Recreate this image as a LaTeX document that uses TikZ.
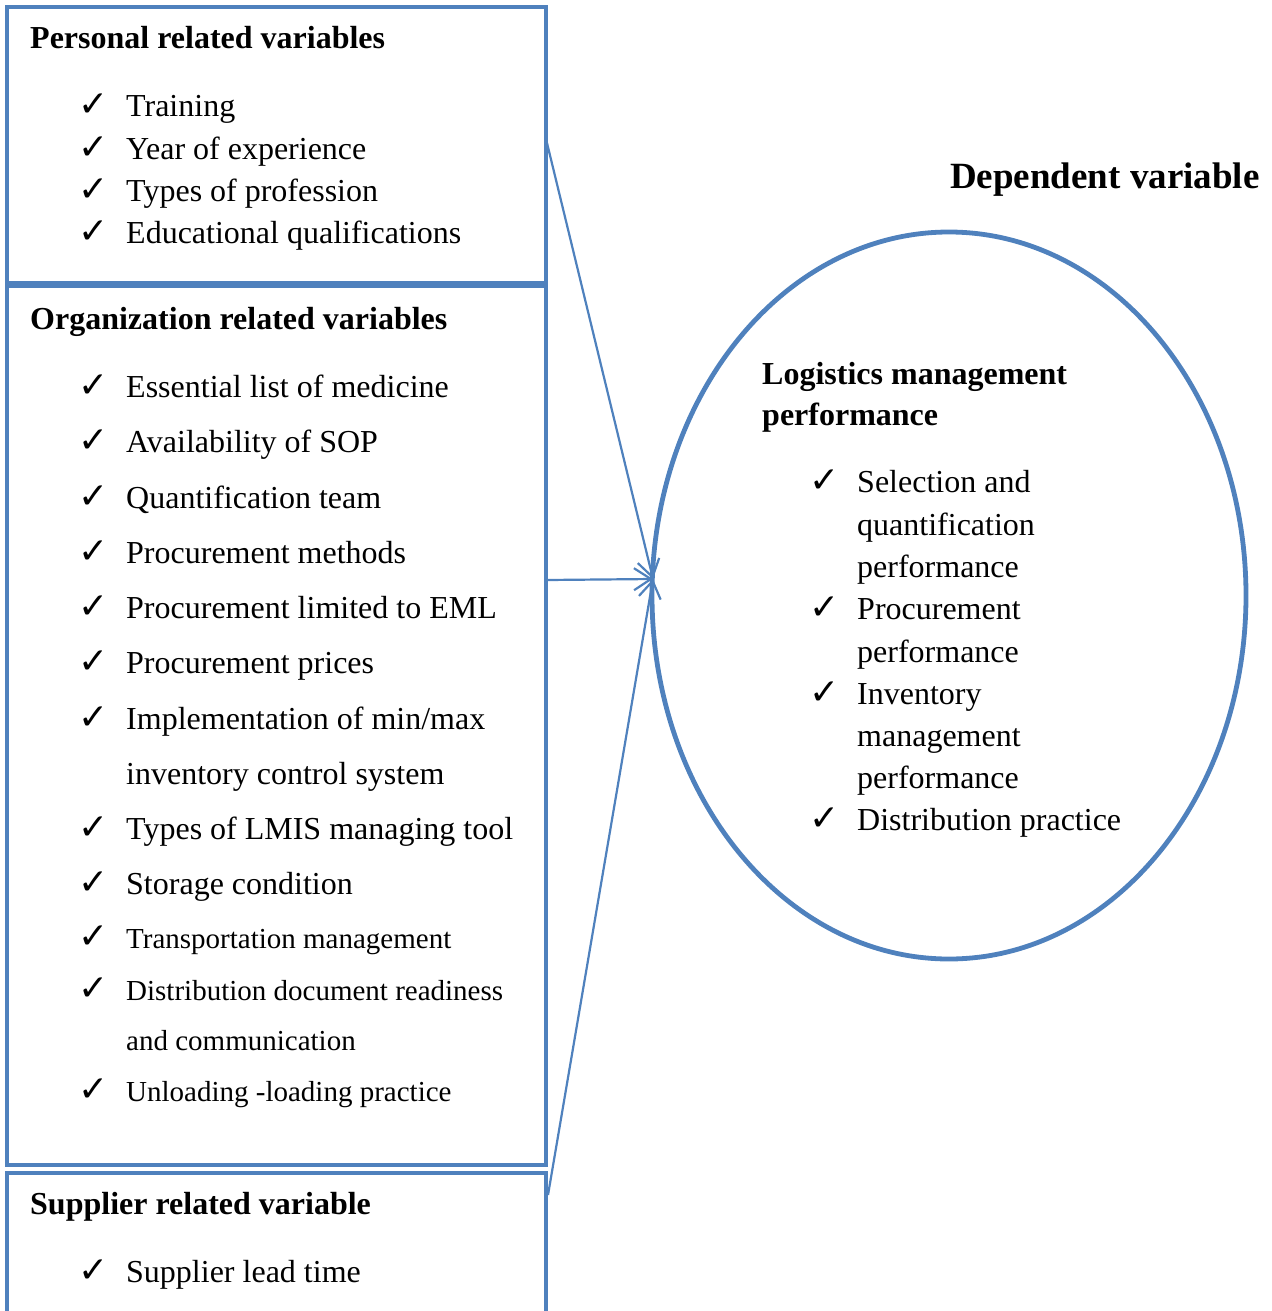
\documentclass[tikz,border=0pt]{standalone}
\usepackage{fontspec}
\setmainfont{Liberation Serif}
\newfontfamily\checkfont{DejaVu Sans}
\usetikzlibrary{arrows.meta,shapes.geometric}
\definecolor{boxblue}{HTML}{4F81BD}
\begin{document}
\begin{tikzpicture}[x=1pt,y=-1pt,
 panel/.style={draw=boxblue, line width=4.8pt, minimum width=539pt, inner sep=0pt},
 head/.style={anchor=base west, inner sep=0pt, font=\fontsize{32}{38}\selectfont\bfseries},
 bighead/.style={anchor=base west, inner sep=0pt, font=\fontsize{37}{44}\selectfont\bfseries},
 txt/.style={anchor=base west, inner sep=0pt, font=\fontsize{32}{38}\selectfont},
 stxt/.style={anchor=base west, inner sep=0pt, font=\fontsize{29}{35}\selectfont},
 tick/.style={anchor=base west, inner sep=0pt, font=\fontsize{36}{40}\checkfont},
 link/.style={draw=boxblue, line width=2.2pt, -{Straight Barb[length=17pt,width=22pt,line width=2.2pt]}}]
\useasboundingbox (0,0) rectangle (1271,1311);

% panels
\node[panel, minimum height=276pt] (b1) at (276.5,145) {};
\node[panel, minimum height=879pt] (b2) at (276.5,725.5) {};
\node[panel, minimum height=150pt] (b3) at (276.5,1248) {};
\node[draw=boxblue, line width=4.8pt, ellipse, minimum width=594pt, minimum height=727pt, inner sep=0pt] (ell) at (949,595.5) {};

% box 1
\node[head] (h1) at (30,49) {Personal related variables};
\node[tick] (c11) at (78,117) {✓}; \node[txt] (t11) at (126,117) {Training};
\node[tick] (c12) at (78,159) {✓}; \node[txt] (t12) at (126,159) {Year of experience};
\node[tick] (c13) at (78,201) {✓}; \node[txt] (t13) at (126,201) {Types of profession};
\node[tick] (c14) at (78,243) {✓}; \node[txt] (t14) at (126,243) {Educational qualifications};

% box 2
\node[head] (h2) at (30,329) {Organization related variables};
\node[tick] (c21) at (78,397) {✓}; \node[txt] (t21) at (126,397) {Essential list of medicine};
\node[tick] (c22) at (78,452) {✓}; \node[txt] (t22) at (126,452) {Availability of SOP};
\node[tick] (c23) at (78,508) {✓}; \node[txt] (t23) at (126,508) {Quantification team};
\node[tick] (c24) at (78,563) {✓}; \node[txt] (t24) at (126,563) {Procurement methods};
\node[tick] (c25) at (78,618) {✓}; \node[txt] (t25) at (126,618) {Procurement limited to EML};
\node[tick] (c26) at (78,673) {✓}; \node[txt] (t26) at (126,673) {Procurement prices};
\node[tick] (c27) at (78,729) {✓}; \node[txt] (t27) at (126,729) {Implementation of min/max};
\node[txt] (t27b) at (126,784) {inventory control system};
\node[tick] (c28) at (78,839) {✓}; \node[txt] (t28) at (126,839) {Types of LMIS managing tool};
\node[tick] (c29) at (78,894) {✓}; \node[txt] (t29) at (126,894) {Storage condition};
\node[tick] (c210) at (78,948) {✓}; \node[stxt] (t210) at (126,948) {Transportation management};
\node[tick] (c211) at (78,1000) {✓}; \node[stxt] (t211) at (126,1000) {Distribution document readiness};
\node[stxt] (t211b) at (126,1050) {and communication};
\node[tick] (c212) at (78,1101) {✓}; \node[stxt] (t212) at (126,1101) {Unloading -loading practice};

% box 3
\node[head] (h3) at (30,1214) {Supplier related variable};
\node[tick] (c31) at (78,1282) {✓}; \node[txt] (t31) at (126,1282) {Supplier lead time};

% dependent
\node[bighead] (dep) at (950,188) {Dependent variable};
\node[head] (lh1) at (762,384) {Logistics management};
\node[head] (lh2) at (762,425) {performance};
\node[tick] (e1) at (809,492) {✓}; \node[txt] (et1) at (857,492) {Selection and};
\node[txt] (et1b) at (857,535) {quantification};
\node[txt] (et1c) at (857,577) {performance};
\node[tick] (e2) at (809,619) {✓}; \node[txt] (et2) at (857,619) {Procurement};
\node[txt] (et2b) at (857,662) {performance};
\node[tick] (e3) at (809,704) {✓}; \node[txt] (et3) at (857,704) {Inventory};
\node[txt] (et3b) at (857,746) {management};
\node[txt] (et3c) at (857,788) {performance};
\node[tick] (e4) at (809,830) {✓}; \node[txt] (et4) at (857,830) {Distribution practice};

% connectors
\coordinate (tip) at (653,579);
\coordinate (s1) at (547,143);
\coordinate (s2) at (547,580);
\coordinate (s3) at (548,1195);
\draw[link] (s1) -- (tip);
\draw[link] (s2) -- (tip);
\draw[link] (s3) -- (tip);
\end{tikzpicture}
\end{document}
